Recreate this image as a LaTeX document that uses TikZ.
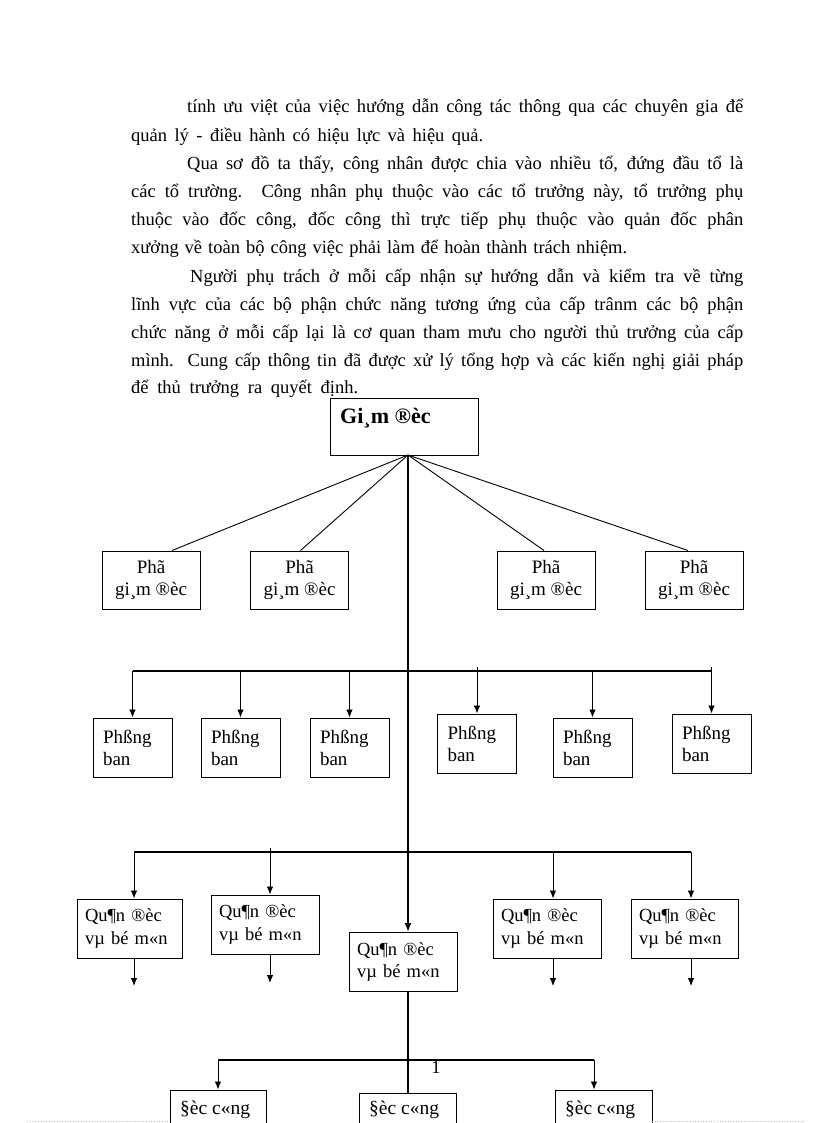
\documentclass[tikz,border=0pt]{standalone}
\usepackage{fontspec}
\setmainfont{Liberation Serif}
\usetikzlibrary{arrows.meta}
\begin{document}
\begin{tikzpicture}[x=1pt,y=-1pt,
  body/.style={anchor=base west,inner sep=0pt,font=\fontsize{18.5}{21}\selectfont},
  box/.style={draw,line width=1pt,inner ysep=0pt,font=\fontsize{19}{22}\selectfont},
  phobox/.style={box,minimum width=98pt,minimum height=58pt,align=center},
  pbbox/.style={box,minimum width=79pt,minimum height=59pt,inner xsep=10pt,text width=59pt,align=left},
  qdbox/.style={box,font=\fontsize{18.5}{22.5}\selectfont,minimum width=#1,minimum height=59pt,inner xsep=8pt,text width=#1-16pt,align=left},
  emptybox/.style={draw,line width=1pt,minimum width=#1,minimum height=60pt,inner sep=0pt},
  conn/.style={line width=0.9pt},
  trunk/.style={line width=2.6pt},
  arr/.style={line width=0.9pt,-{Latex[length=8pt,width=6.5pt]}},
  tarr/.style={line width=2.6pt,-{Latex[length=9pt,width=7pt]}},
  lbl/.style={anchor=base west,inner sep=0pt,font=\fontsize{19.5}{22}\selectfont},
]
\useasboundingbox (0,0) rectangle (816,1123);
\clip (0,0) rectangle (816,1123);

% ---------- body text ----------
\node[body] (t1) at (187,113) {\makebox[556pt][s]{tính ưu việt của việc hướng dẫn công tác thông qua các chuyên gia để}};
\node[body] (t2) at (131,141.2) {\makebox[352pt][s]{quản lý - điều hành có hiệu lực và hiệu quả.}};
\node[body] (t3) at (187,169.4) {\makebox[556pt][s]{Qua sơ đồ ta thấy, công nhân được chia vào nhiều tổ, đứng đầu tổ là}};
\node[body] (t4) at (131,197.6) {\makebox[612pt][s]{các tổ trường. Công nhân phụ thuộc vào các tổ trưởng này, tổ trưởng phụ}};
\node[body] (t5) at (131,225.8) {\makebox[612pt][s]{thuộc vào đốc công, đốc công thì trực tiếp phụ thuộc vào quản đốc phân}};
\node[body] (t6) at (131,254) {\makebox[496pt][s]{xưởng về toàn bộ công việc phải làm để hoàn thành trách nhiệm.}};
\node[body] (t7) at (190,282.2) {\makebox[553pt][s]{Người phụ trách ở mỗi cấp nhận sự hướng dẫn và kiểm tra về từng}};
\node[body] (t8) at (131,310.4) {\makebox[612pt][s]{lĩnh vực của các bộ phận chức năng tương ứng của cấp trânm các bộ phận}};
\node[body] (t9) at (131,338.6) {\makebox[612pt][s]{chức năng ở mỗi cấp lại là cơ quan tham mưu cho người thủ trưởng của cấp}};
\node[body] (t10) at (131,366.8) {\makebox[612pt][s]{mình. Cung cấp thông tin đã được xử lý tổng hợp và các kiến nghị giải pháp}};
\node[body] (t11) at (131,393) {\makebox[227pt][s]{để thủ trưởng ra quyết định.}};

% ---------- Giam doc ----------
\node[draw,line width=1pt,minimum width=148pt,minimum height=57pt,inner sep=0pt] (gd) at (404,426.5) {};
\node[lbl,font=\fontsize{22}{24}\selectfont\bfseries] (gdt) at (340,423) {Gi¸m ®èc};
\coordinate (J) at (408,455);

% ---------- Pho giam doc ----------
\node[phobox] (p1) at (151,580) {Phã\\gi¸m ®èc};
\node[phobox] (p2) at (299.5,580) {Phã\\gi¸m ®èc};
\node[phobox] (p3) at (546,580) {Phã\\gi¸m ®èc};
\node[phobox] (p4) at (694,580) {Phã\\gi¸m ®èc};
\draw[conn] (J) -- ([xshift=21pt]p1.north);
\draw[conn] (J) -- ([xshift=1pt]p2.north);
\draw[conn] (J) -- ([xshift=-2pt]p3.north);
\draw[conn] (J) -- ([xshift=-6pt]p4.north);

% ---------- Phong ban ----------
\node[pbbox] (pb1) at (132.5,747.5) {Phßng\\ban};
\node[pbbox] (pb2) at (240.5,747.5) {Phßng\\ban};
\node[pbbox] (pb3) at (349.5,747.5) {Phßng\\ban};
\node[pbbox] (pb4) at (477,743.5) {Phßng\\ban};
\node[pbbox] (pb5) at (592.5,747.5) {Phßng\\ban};
\node[pbbox] (pb6) at (711.5,743.5) {Phßng\\ban};
\coordinate (b1) at (0,671);
\coordinate (b1u) at (0,667);
\draw[trunk] (pb1.north |- b1) -- (pb6.north |- b1);
\draw[arr] (pb1.north |- b1) -- (pb1.north);
\draw[arr] (pb2.north |- b1) -- (pb2.north);
\draw[arr] (pb3.north |- b1) -- (pb3.north);
\draw[arr] (pb4.north |- b1u) -- (pb4.north);
\draw[arr] (pb5.north |- b1) -- (pb5.north);
\draw[arr] (pb6.north |- b1u) -- (pb6.north);

% ---------- Quan doc ----------
\node[qdbox=105pt] (qd1) at (129.5,928.5) {Qu¶n ®èc\\vµ bé m«n};
\node[qdbox=108pt] (qd2) at (265,924.5) {Qu¶n ®èc\\vµ bé m«n};
\node[qdbox=108pt] (qd3) at (403,962) {Qu¶n ®èc\\vµ bé m«n};
\node[qdbox=108pt] (qd4) at (547,928.5) {Qu¶n ®èc\\vµ bé m«n};
\node[qdbox=107pt] (qd5) at (684.5,928.5) {Qu¶n ®èc\\vµ bé m«n};
\coordinate (a1) at (134,852);
\coordinate (a2) at (270,852);
\coordinate (a2u) at (270,848);
\coordinate (a3) at (553,852);
\coordinate (a4) at (691,852);
\draw[trunk] (a1) -- (a4);
\draw[arr] (a1) -- (a1 |- qd1.north);
\draw[arr] (a2u) -- (a2 |- qd2.north);
\draw[arr] (a3) -- (a3 |- qd4.north);
\draw[arr] (a4) -- (a4 |- qd5.north);
\coordinate (e1) at (134,986);
\coordinate (e2) at (270,983);
\coordinate (e3) at (553,986);
\coordinate (e4) at (691,986);
\draw[arr] (e1 |- qd1.south) -- (e1);
\draw[arr] (e2 |- qd2.south) -- (e2);
\draw[arr] (e3 |- qd4.south) -- (e3);
\draw[arr] (e4 |- qd5.south) -- (e4);

% ---------- Doc cong ----------
\node[emptybox=96pt] (dc1) at (218,1120) {};
\node[emptybox=97pt] (dc2) at (407.5,1123) {};
\node[emptybox=97pt] (dc3) at (603.5,1120) {};
\node[lbl] (dc1t) at (180,1114) {§èc c«ng};
\node[lbl] (dc2t) at (369,1114) {§èc c«ng};
\node[lbl] (dc3t) at (565,1114) {§èc c«ng};
\coordinate (c1) at (218,1060);
\coordinate (c3) at (594,1060);
\draw[trunk] (c1) -- (c3);
\draw[arr] (c1) -- (dc1.north);
\draw[arr] (c3) -- (c3 |- dc3.north);

% ---------- trunk ----------
\draw[tarr] (J) -- (J |- qd3.north);
\draw[trunk] (J |- qd3.south) -- (J |- dc2.north);

% ---------- page number & page edge ----------
\node[inner sep=0pt,font=\fontsize{18.5}{21}\selectfont] (pg) at (436,1067) {1};
\coordinate (d1) at (27,1121);
\coordinate (d2) at (170,1121);
\coordinate (d3) at (652,1121);
\coordinate (d4) at (805,1121);
\draw[gray!50,dotted,line width=0.7pt] (d1) -- (d2);
\draw[gray!50,dotted,line width=0.7pt] (d3) -- (d4);
\end{tikzpicture}
\end{document}
